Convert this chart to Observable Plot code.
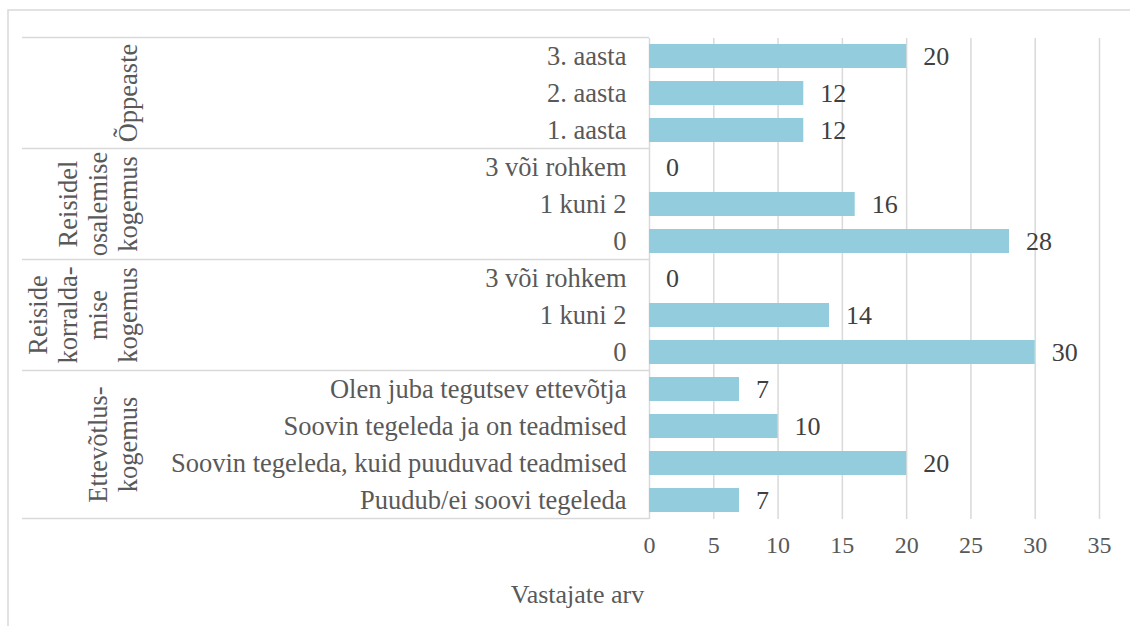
<!DOCTYPE html>
<html>
<head>
<meta charset="utf-8">
<script src="https://cdn.jsdelivr.net/npm/d3@7"></script>
<script src="https://cdn.jsdelivr.net/npm/@observablehq/plot@0.6"></script>
<style>
  body { margin: 0; background: #fff; }
  #chart svg { display: block; }
</style>
</head>
<body>
<div id="chart"></div>
<script>
// ---- data (top to bottom) ----
const categories = [
  "3. aasta", "2. aasta", "1. aasta",
  "3 või rohkem", "1 kuni 2", "0",
  "3 või rohkem", "1 kuni 2", "0",
  "Olen juba tegutsev ettevõtja", "Soovin tegeleda ja on teadmised",
  "Soovin tegeleda, kuid puuduvad teadmised", "Puudub/ei soovi tegeleda"
];
const values = [20, 12, 12, 0, 16, 28, 0, 14, 30, 7, 10, 20, 7];
const groupOfRow = [0, 0, 0, 1, 1, 1, 2, 2, 2, 3, 3, 3, 3];
const groupLines = [
  ["Õppeaste"],
  ["Reisidel", "osalemise", "kogemus"],
  ["Reiside", "korralda-", "mise", "kogemus"],
  ["Ettevõtlus-", "kogemus"]
];
const xTicks = [0, 5, 10, 15, 20, 25, 30, 35];
const xTitle = "Vastajate arv";

// ---- table ----
const rows = categories.map((c, i) => ({
  key: groupOfRow[i] + "|" + c, label: c, value: values[i], group: groupOfRow[i]
}));
const labelOf = new Map(rows.map(r => [r.key, r.label]));

const FONT = "'Liberation Serif', 'Times New Roman', serif";
const GRID = "#d9d9d9";

const chart = Plot.plot({
  width: 1130, height: 626,
  marginLeft: 649, marginRight: 31, marginTop: 38, marginBottom: 107,
  style: { fontFamily: FONT, color: "#595959", background: "#fff", overflow: "visible" },
  x: { domain: [0, 35] },
  y: { domain: rows.map(r => r.key), paddingInner: 0.35, paddingOuter: 0.175 },
  marks: [
    Plot.gridX(xTicks, { stroke: GRID, strokeOpacity: 1, strokeWidth: 1.5 }),
    Plot.barX(rows, { x: "value", y: "key", fill: "#93cddd" }),
    Plot.text(rows, {
      x: "value", y: "key", text: d => String(d.value),
      textAnchor: "start", dx: 16.5, fill: "#404040", fontSize: 26
    }),
    Plot.axisX(xTicks, { tickSize: 0, tickPadding: 16, fontSize: 24, label: null, fill: "#595959" }),
    Plot.axisY({ tickSize: 0, tickPadding: 23, tickFormat: k => labelOf.get(k), fontSize: 26.5, label: null, fill: "#595959" }),
    Plot.text([xTitle], { frameAnchor: "bottom", text: d => d, dx: -297, dy: 83, fontSize: 26, fill: "#595959" })
  ]
});

// ---- group separators and rotated group labels, positioned with Plot's y scale ----
const ys = chart.scale("y");
const half = (ys.step - ys.bandwidth) / 2;
const svg = d3.select(chart);
const gAdd = svg.append("g");

const groupIds = [...new Set(groupOfRow)];
const bounds = [];
groupIds.forEach(g => {
  const keys = rows.filter(r => r.group === g).map(r => r.key);
  const top = ys.apply(keys[0]) - half;
  const bottom = ys.apply(keys[keys.length - 1]) + ys.bandwidth + half;
  bounds.push(top, bottom);
  const cy = (top + bottom) / 2;
  const lines = groupLines[g];
  lines.forEach((ln, i) => {
    const bx = 137 - (lines.length - 1 - i) * 30;
    gAdd.append("text")
      .attr("transform", `translate(${bx},${cy}) rotate(-90)`)
      .attr("text-anchor", "middle")
      .attr("font-family", FONT)
      .attr("font-size", 26.5)
      .attr("fill", "#595959")
      .text(ln);
  });
});
[...new Set(bounds.map(b => Math.round(b * 10) / 10))].forEach(b => {
  gAdd.append("line")
    .attr("x1", 22).attr("x2", 649).attr("y1", b).attr("y2", b)
    .attr("stroke", GRID).attr("stroke-width", 1.5);
});
svg.append("rect")
  .attr("x", 8).attr("y", 10).attr("width", 1160).attr("height", 660)
  .attr("fill", "none").attr("stroke", GRID).attr("stroke-width", 1.5);

document.getElementById("chart").appendChild(chart);
</script>
</body>
</html>
